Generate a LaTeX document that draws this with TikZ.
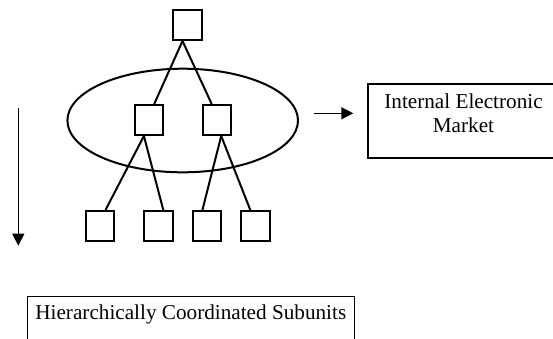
\documentclass[tikz,border=0pt]{standalone}
\usepackage{fontspec}
\setmainfont{Liberation Serif}
\usetikzlibrary{shapes.geometric,arrows.meta}
\begin{document}
\begin{tikzpicture}[x=1pt,y=-1pt,
  unit/.style={draw, line width=2pt, minimum width=28.5pt, minimum height=30pt, inner sep=0pt},
  link/.style={line width=2pt},
  arr/.style={line width=1.4pt, -{Triangle[length=12pt,width=12pt]}},
  txt/.style={font=\fontsize{21.2}{24}\selectfont}]
\useasboundingbox (0,0) rectangle (553,338);
\clip (0,0) rectangle (553,338);
% tree units
\node[unit] (t) at (187.5,25) {};
\node[unit] (m1) at (148.9,120) {};
\node[unit] (m2) at (216.9,120) {};
\node[unit] (b1) at (100.2,226) {};
\node[unit] (b2) at (158.5,226) {};
\node[unit] (b3) at (206.9,226) {};
\node[unit] (b4) at (255.3,226) {};
% grouping ellipse
\node[draw, ellipse, line width=2pt, minimum width=230.6pt, minimum height=103.6pt, inner sep=0pt] (grp) at (182.7,120.5) {};
% links
\draw[link] ([xshift=-5pt]t.south) -- ([xshift=5.3pt]m1.north);
\draw[link] ([xshift=-5pt]t.south) -- ([xshift=-5.2pt]m2.north);
\draw[link] ([xshift=-5pt]m1.south) -- ([xshift=5.3pt]b1.north);
\draw[link] ([xshift=-5pt]m1.south) -- ([xshift=4.8pt]b2.north);
\draw[link] ([xshift=4.3pt]m2.south) -- ([xshift=-4.5pt]b3.north);
\draw[link] ([xshift=4.3pt]m2.south) -- ([xshift=-5pt]b4.north);
% internal electronic market
\node[draw, line width=2pt, minimum width=191.6pt, minimum height=74pt, inner sep=0pt] (iem) at (463.5,121.3) {};
\node[txt, align=center, anchor=base, inner sep=0pt] (iemt) at (463.5,132.7) {Internal Electronic\\Market};
% arrows
\coordinate (r0) at (314,113.3);
\coordinate (r1) at (353.3,113.3);
\draw[arr] (r0) -- (r1);
\coordinate (d0) at (18.3,108.3);
\coordinate (d1) at (18.3,245.7);
\draw[arr] (d0) -- (d1);
% bottom box
\node[draw, line width=1.3pt, txt, anchor=north, minimum width=327pt, inner xsep=0pt, inner ysep=8.8pt, text depth=40pt] (hcs) at (190.8,295.6) {Hierarchically Coordinated Subunits};
\end{tikzpicture}
\end{document}
